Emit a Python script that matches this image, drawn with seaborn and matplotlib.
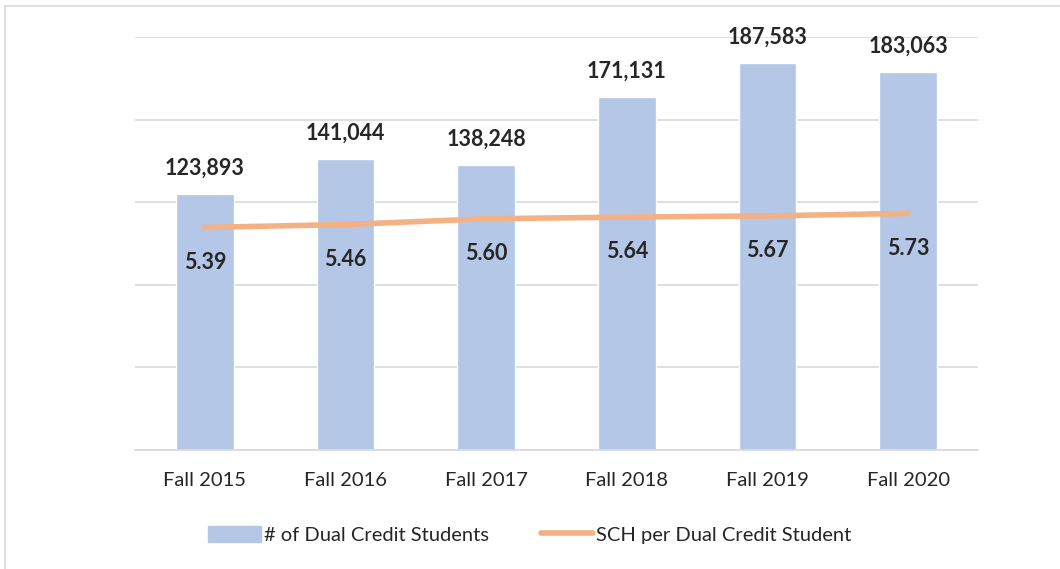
import matplotlib.pyplot as plt
import matplotlib.patches as mpatches
import matplotlib.lines as mlines
import seaborn as sns
import pandas as pd

terms = ['Fall 2015', 'Fall 2016', 'Fall 2017', 'Fall 2018', 'Fall 2019', 'Fall 2020']
students = [123893, 141044, 138248, 171131, 187583, 183063]
sch = [5.39, 5.46, 5.60, 5.64, 5.67, 5.73]

df = pd.DataFrame({'term': terms, 'students': students, 'sch': sch})

sns.set_style('white')
plt.rcParams['font.family'] = ['Lato', 'DejaVu Sans']

fig = plt.figure(figsize=(10.6, 5.69), dpi=100)
ax = fig.add_axes([0.127, 0.209, 0.796, 0.726])

sns.barplot(x='term', y='students', data=df, color='#B4C7E7', width=0.41,
            saturation=1, ax=ax, zorder=2)
ax.set_ylim(0, 200000)
ax.set_yticks(range(0, 200001, 40000))
ax.set_yticklabels([])
ax.tick_params(axis='y', length=0)
ax.tick_params(axis='x', length=0, labelsize=14.5, pad=16)
ax.yaxis.grid(True, color='#D9D9D9', linewidth=1.2, zorder=0)
ax.set_axisbelow(True)
ax.set_xlabel('')
ax.set_ylabel('')
for s in ['top', 'right', 'left']:
    ax.spines[s].set_visible(False)
ax.spines['bottom'].set_color('#D9D9D9')
ax.spines['bottom'].set_linewidth(1.2)
ax.set_xlim(-0.5, 5.5)

for i, v in enumerate(students):
    ax.annotate(f'{v:,}', (i, v), xytext=(0, 11), textcoords='offset points',
                ha='center', va='bottom', fontsize=15.5, fontweight='bold')

ax2 = ax.twinx()
sns.lineplot(x=list(range(len(terms))), y=sch, color='#F4B183', linewidth=4,
             solid_capstyle='round', ax=ax2)
ax2.set_ylim(0, 10)
ax2.set_xlim(-0.5, 5.5)
ax2.axis('off')
for i, v in enumerate(sch):
    ax2.annotate(f'{v:.2f}', (i, v), xytext=(0, -25), textcoords='offset points',
                 ha='center', va='center', fontsize=15.5, fontweight='bold')

h1 = mpatches.Patch(color='#B4C7E7', label='# of Dual Credit Students')
h2 = mlines.Line2D([], [], color='#F4B183', linewidth=4, label='SCH per Dual Credit Student')
fig.legend(handles=[h1, h2], loc='center', bbox_to_anchor=(0.5, 0.06), ncol=2,
           frameon=False, fontsize=14.5, handlelength=2.6, handleheight=0.9,
           handletextpad=0.15, columnspacing=2.6)

fig.patches.append(mpatches.Rectangle((0.005, -0.1), 1.2, 1.09, transform=fig.transFigure,
                                      fill=False, edgecolor='#D9D9D9', linewidth=1.2))

fig.savefig('out.png', dpi=100, facecolor='white')
